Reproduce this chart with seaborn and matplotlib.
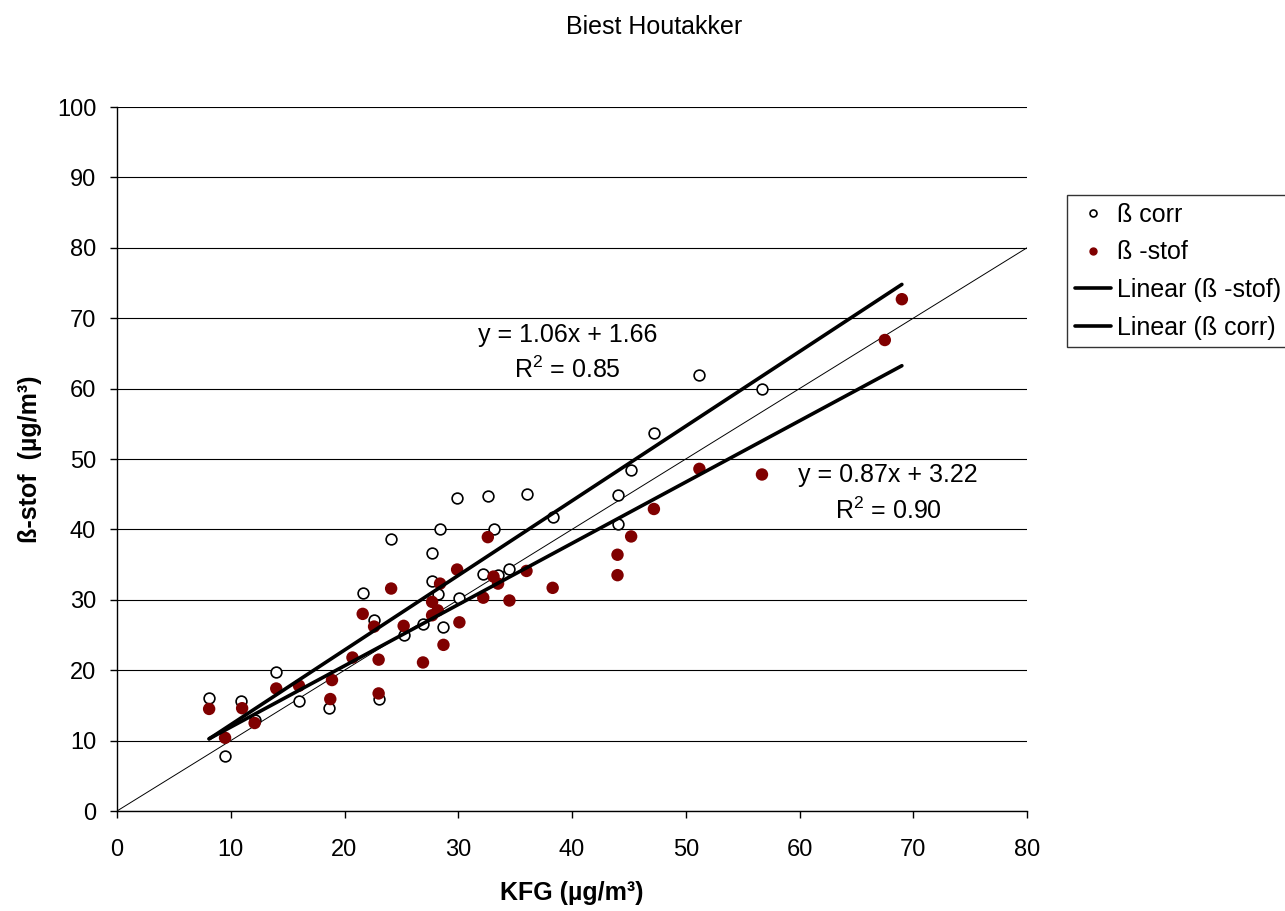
import pandas as pd
import numpy as np
import seaborn as sns
import matplotlib.pyplot as plt
from matplotlib.lines import Line2D

sns.set_style('white')
plt.rcParams['font.family'] = ['Liberation Sans', 'DejaVu Sans']
plt.rcParams['mathtext.default'] = 'regular'
for k in ['text.color', 'axes.labelcolor', 'xtick.color', 'ytick.color']:
    plt.rcParams[k] = 'black'

# ß corr (open circles)
corr_x = [8.1, 9.5, 10.9, 12.1, 14.0, 16.0, 18.6, 21.6, 22.6, 23.0, 24.1, 25.2,
          26.9, 27.7, 27.7, 28.2, 28.4, 28.7, 29.9, 30.1, 32.2, 32.6, 33.1, 33.5,
          34.5, 36.0, 38.3, 44.0, 44.0, 45.2, 47.2, 51.2, 56.7]
corr_y = [16.0, 7.8, 15.6, 12.9, 19.7, 15.6, 14.6, 31.0, 27.1, 15.9, 38.7, 25.0,
          26.5, 32.6, 36.7, 30.8, 40.0, 26.1, 44.5, 30.3, 33.6, 44.7, 40.0, 33.5,
          34.4, 45.0, 41.8, 44.9, 40.8, 48.4, 53.7, 62.0, 60.0]

# ß -stof (filled red)
stof_x = [8.1, 9.5, 11.0, 12.1, 14.0, 16.0, 18.75, 18.9, 20.7, 21.6, 22.6, 23.0,
          23.0, 24.1, 25.2, 26.9, 27.7, 27.7, 28.2, 28.4, 28.7, 29.9, 30.1, 32.2,
          32.6, 33.1, 33.5, 34.5, 36.0, 38.3, 44.0, 44.0, 45.2, 47.2, 51.2, 56.7,
          67.5, 69.0]
stof_y = [14.5, 10.4, 14.6, 12.5, 17.4, 17.8, 15.9, 18.6, 21.8, 28.0, 26.2, 21.5,
          16.7, 31.6, 26.3, 21.1, 29.7, 27.8, 28.5, 32.3, 23.6, 34.3, 26.8, 30.3,
          38.9, 33.3, 32.3, 29.9, 34.1, 31.7, 36.4, 33.5, 39.0, 42.9, 48.6, 47.8,
          66.9, 72.7]

# trendlines as reported in the chart
trend_slope = [1.06, 0.87]
trend_icpt = [1.66, 3.22]
trend_r2 = [0.85, 0.90]
trend_xrange = [8.1, 69.0]
label_pos = [(39.6, 65.1), (67.8, 45.1)]

df_corr = pd.DataFrame({'x': corr_x, 'y': corr_y})
df_stof = pd.DataFrame({'x': stof_x, 'y': stof_y})

fig = plt.figure(figsize=(12.85, 9.11), dpi=100)
ax = fig.add_axes([117 / 1285, 1 - 811 / 911, 910 / 1285, 704 / 911])

# 1:1 reference line
ax.plot([0, 80], [0, 80], color='black', lw=0.7, zorder=1)

sns.scatterplot(data=df_corr, x='x', y='y', ax=ax, s=60, color='white',
                edgecolor='black', linewidth=1.2, zorder=2)
sns.scatterplot(data=df_stof, x='x', y='y', ax=ax, s=80, color='#800000',
                edgecolor='none', zorder=3)

xs = np.array(trend_xrange)
for m, b, r2, (tx, ty) in zip(trend_slope, trend_icpt, trend_r2, label_pos):
    ax.plot(xs, m * xs + b, color='black', lw=2.6, zorder=4)
    ax.text(tx, ty, f'y = {m:.2f}x + {b:.2f}\nR$^2$ = {r2:.2f}', ha='center',
            va='center', fontsize=18, linespacing=1.45)

ax.set_xlim(0, 80)
ax.set_ylim(0, 100)
ax.set_xticks(range(0, 81, 10))
ax.set_yticks(range(0, 101, 10))
ax.yaxis.grid(True, color='black', lw=0.8)
ax.set_axisbelow(True)
for s in ['top', 'right']:
    ax.spines[s].set_visible(False)
for s in ['left', 'bottom']:
    ax.spines[s].set_color('black')
    ax.spines[s].set_linewidth(1.0)
ax.tick_params(axis='both', labelsize=17, direction='out', length=5,
               width=1, color='black', left=True, bottom=True)
ax.tick_params(axis='x', pad=15)
ax.tick_params(axis='y', pad=10)

ax.set_xlabel('KFG (µg/m³)', fontsize=18, fontweight='bold', va='center')
ax.set_ylabel('ß-stof  (µg/m³)', fontsize=18, fontweight='bold', va='center')
ax.xaxis.set_label_coords(0.5, -0.1165)
ax.yaxis.set_label_coords(-0.0956, 0.5)

fig.text(654 / 1285, 1 - 27 / 911, 'Biest Houtakker', ha='center', va='center',
         fontsize=18)

handles = [
    Line2D([], [], ls='none', marker='o', mfc='white', mec='black', ms=5, mew=1.2),
    Line2D([], [], ls='none', marker='o', mfc='#800000', mec='#800000', ms=5),
    Line2D([], [], color='black', lw=2.6),
    Line2D([], [], color='black', lw=2.6),
]
labels = ['ß corr', 'ß -stof', 'Linear (ß -stof)', 'Linear (ß corr)']
leg = ax.legend(handles, labels, loc='upper left', bbox_to_anchor=(1.044, 0.875),
                borderaxespad=0, fontsize=18, frameon=True, fancybox=False,
                handlelength=1.45, handletextpad=0.25, labelspacing=0.55,
                borderpad=0.3)
leg.get_frame().set_edgecolor('black')
leg.get_frame().set_linewidth(1.0)

fig.savefig('out.png', dpi=100)
